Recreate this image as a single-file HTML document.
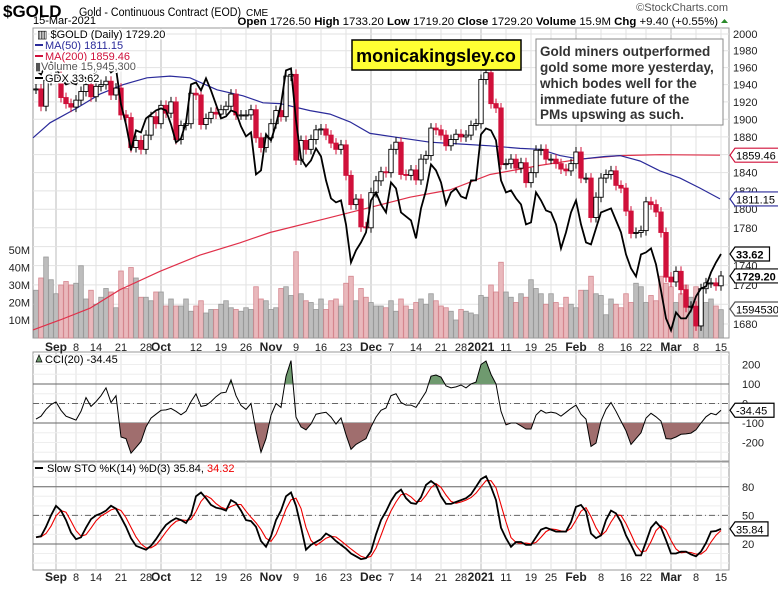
<!DOCTYPE html>
<html><head><meta charset="utf-8"><style>
body{margin:0;background:#fff;}
svg text{font-family:"Liberation Sans",sans-serif;}
</style></head><body>
<svg id="chart" width="778" height="585" viewBox="0 0 778 585" xmlns="http://www.w3.org/2000/svg">
<rect width="778" height="585" fill="#fff"/>
<g id="grid"></g>
<g id="marks"></g>
<g id="labels"></g>
</svg>
<script>
const closes=[1935,1915,1945,1948,1950,1925,1918,1914,1922,1932,1940,1926,1938,1940,1944,1928,1936,1905,1902,1868,1876,1866,1882,1903,1895,1916,1907,1920,1877,1893,1895,1930,1928,1894,1901,1908,1906,1911,1915,1929,1905,1905,1905,1911,1879,1868,1879,1895,1910,1903,1950,1952,1854,1876,1866,1877,1888,1889,1882,1873,1866,1871,1837,1805,1811,1781,1780,1818,1831,1841,1840,1866,1874,1838,1837,1843,1832,1855,1859,1890,1888,1882,1870,1877,1883,1880,1882,1893,1895,1946,1954,1918,1913,1849,1850,1855,1845,1851,1829,1840,1865,1866,1855,1855,1850,1844,1842,1850,1863,1834,1834,1791,1813,1834,1838,1842,1826,1823,1798,1774,1775,1777,1808,1805,1797,1775,1728,1723,1734,1715,1697,1698,1678,1716,1722,1722,1719,1729.2];
const gdx=[42.8,42.6,43.1,43.2,43.0,42.4,42.1,42.2,42.1,42.6,42.4,42.2,42.8,43.0,43.1,42.7,42.9,41.1,40.1,38.8,39.8,39.7,40.4,40.6,40.8,40.9,40.8,40.1,39.2,39.4,40.2,42.1,42.2,41.8,42.4,41.8,41.1,40.4,40.5,40.8,40.7,40.0,39.5,39.7,37.6,37.8,39.6,39.3,40.1,41.1,42.8,42.9,40.3,38.4,38.0,38.3,38.9,38.5,37.3,36.4,36.2,36.3,35.1,33.2,33.8,34.2,34.7,36.3,36.7,36.1,35.7,37.2,36.9,35.7,35.5,35.3,34.4,35.9,36.8,38.1,37.8,37.2,36.1,36.7,36.9,36.5,36.4,37.3,37.3,39.6,39.9,39.8,39.3,37.3,36.7,36.8,36.4,36.1,35.1,35.2,36.7,36.3,35.8,35.7,35.1,33.9,34.7,35.7,36.3,35.1,34.2,34.1,34.9,35.7,35.8,35.9,35.3,34.7,33.6,32.9,32.5,33.6,33.7,33.9,33.1,31.8,30.4,29.8,30.7,30.4,30.4,30.8,31.5,31.9,32.0,32.7,33.2,33.62];
const volume=[27,34,46,33,25,30,32,30,31,41,22,27,19,23,28,26,17,38,28,40,34,23,23,21,26,26,18,22,18,18,22,15,18,21,14,16,16,19,21,17,16,15,17,16,29,22,21,16,17,28,29,24,49,25,21,20,16,22,16,21,22,18,31,35,21,28,23,20,18,18,17,21,15,22,18,16,20,22,19,25,21,18,17,15,10,16,15,14,13,24,23,30,26,43,26,23,20,25,23,33,28,25,19,25,20,17,23,19,17,27,27,35,25,24,13,22,19,17,25,20,31,29,20,24,21,35,31,29,20,25,30,23,29,24,20,22,18,15.9];
const ma50Idx=[-0.6,2.8,8.2,12.8,17.4,22.2,26.8,30.8,36.2,41.4,45.4,48.8,54.8,58.8,62.8,66.8,72.8,78.8,84.8,90.8,96.8,100.8,104.8,108.8,113.8,116.8,120.8,124.8,128.8,132.8,136.8];
const ma50Val=[1879,1896,1913,1929,1940,1948,1950,1948,1934,1927,1919,1918,1910,1906,1897,1884,1879,1874,1872,1870,1867,1866,1859,1855,1858,1859,1853,1842,1834,1823,1811.15];
const ma200Idx=[-0.6,4.8,10.8,16.8,24.8,32.8,40.8,46.8,58.8,66.8,74.8,82.8,90.8,96.8,100.8,108.8,116.8,124.8,136.8];
const ma200Val=[1674,1684,1696,1715,1734,1751,1764,1775,1791,1802,1813,1821,1838,1844,1848,1855,1859,1860,1859.46];
const cci=[-80,-65,-30,-5,8,-35,-65,-75,-85,-40,30,-15,10,40,80,5,40,-172,-180,-255,-225,-195,-120,-75,-55,-35,-33,-25,-40,-58,-40,10,50,-15,-10,10,35,54,58,121,40,-10,-30,0,-140,-250,-180,-60,0,-20,140,220,-70,-120,-135,-105,-55,-49,-45,-70,-105,-74,-160,-235,-210,-195,-180,-120,-70,-35,-23,40,50,5,-8,-8,-20,20,60,140,146,135,90,80,85,95,80,100,110,200,218,150,100,-40,-110,-100,-100,-115,-131,-131,-60,-35,-49,-44,-49,-65,-45,-25,-8,-55,-80,-220,-203,-90,-30,5,-40,-90,-140,-210,-180,-150,-75,-50,-68,-90,-180,-182,-172,-158,-156,-152,-135,-100,-68,-50,-58,-34.45];
const stoK=[27,28,38,50,60,55,45,32,25,27,37,46,50,52,55,60,57,48,38,26,18,16,14,18,25,33,40,44,47,45,42,50,70,74,68,61,58,57,55,66,63,55,45,44,38,23,17,28,45,55,70,74,60,38,14,19,22,25,31,28,23,19,15,10,7,4,5,12,30,45,54,65,73,77,68,63,62,69,82,86,82,70,62,62,64,66,68,72,80,88,91,80,66,37,26,17,22,22,19,19,27,35,37,35,33,33,33,43,59,61,54,31,26,29,45,55,52,43,29,19,8,8,22,37,43,37,24,10,10,12,12,9,7,12,21,33,33.6,35.84];
const dateLabels=["Sep","8","14","21","28","Oct","12","19","26","Nov","9","16","23","Dec","7","14","21","28","2021","11","19","25","Feb","8","16","22","Mar","8","15"];
const dateIdx=[4,8,12,17,22,25,32,37,42,47,52,57,62,67,71,76,81,85,89,94,99,103,108,113,118,122,127,132,137];
const majorLabels=["Sep","Oct","Nov","Dec","2021","Feb","Mar"];
const priceTicks=[1680,1700,1720,1740,1760,1780,1800,1820,1840,1860,1880,1900,1920,1940,1960,1980,2000];
const volTicks=[10,20,30,40,50];
const cciTicks=[200,100,0,-100,-200];
const stoTicks=[80,50,20];

const NS="http://www.w3.org/2000/svg";
const L=33,R=729,MT=28,MB=338,CT=352,CB=461,ST=462,SB=570;
const xOf=i=>36+i*5.0;
const yP=v=>34+1663*Math.log(2000/v);
const yG=v=>254-(v-33.62)*20;
const yV=m=>337.5-m*1.75;
const yC=v=>403.5-v*0.195;
const yS=v=>563-v*0.953;
const G=document.getElementById('grid'),M=document.getElementById('marks'),T=document.getElementById('labels');
function mk(tag,attrs,parent){const e=document.createElementNS(NS,tag);for(const k in attrs)e.setAttribute(k,attrs[k]);parent.appendChild(e);return e;}
function txt(s,x,y,attrs,parent){const e=mk('text',Object.assign({x:x,y:y,'font-size':11,fill:'#000'},attrs),parent);e.textContent=s;return e;}

[[MT,MB,'main-panel'],[CT,CB,'cci-panel'],[ST,SB,'sto-panel']].forEach(p=>{
  const r=mk('rect',{x:L,y:p[0],width:R-L,height:p[1]-p[0],fill:'#fff',stroke:'#999','stroke-width':1},G);
  
});
dateIdx.forEach((di,k)=>{
  const x=xOf(di);const maj=majorLabels.includes(dateLabels[k]);
  [[MT,MB],[CT,CB],[ST,SB]].forEach(p=>{
    const l=mk('line',{x1:x,x2:x,y1:p[0],y2:p[1],stroke:maj?'#bbb':'#e2e2e2','stroke-width':1},G);
    
  });
  [351,581].forEach(yy=>{
    const t=txt(dateLabels[k],x,yy,{'text-anchor':'middle','font-size':maj?12:11,'font-weight':maj?'bold':'normal',fill:'#222'},T);
    
  });
});
priceTicks.forEach(v=>{
  const y=yP(v);
  const l=mk('line',{x1:L,x2:R,y1:y,y2:y,stroke:'#e2e2e2'},G);
  
  if(v!==1760&&v!==1700){const t=txt(String(v),733,y+4,{fill:'#222'},T);
  }
});
volTicks.forEach(m=>{
  const t=txt(m+'M',30,yV(m)+4,{'text-anchor':'end',fill:'#222'},T);
  
});
for(let v=-250;v<=250;v+=50){const y=yC(v);if(y>CT&&y<CB){const l=mk('line',{x1:L,x2:R,y1:y,y2:y,stroke:'#eee'},G);}}
for(let v=0;v<=100;v+=10){const y=yS(v);if(y>ST&&y<SB){const l=mk('line',{x1:L,x2:R,y1:y,y2:y,stroke:'#eee'},G);}}
cciTicks.forEach(v=>{
  const y=yC(v);
  if(v===100||v===-100){const l=mk('line',{x1:L,x2:R,y1:y,y2:y,stroke:'#666','stroke-width':1},G);}
  if(v===0){const l=mk('line',{x1:L,x2:R,y1:y,y2:y,stroke:'#666','stroke-dasharray':'6,3,1,3'},G);}
  const t=txt(String(v),R+13,y+4,{fill:'#222'},T);
});
stoTicks.forEach(v=>{
  const y=yS(v);
  const l=mk('line',{x1:L,x2:R,y1:y,y2:y,stroke:'#666','stroke-dasharray':v===50?'6,3,1,3':'none'},G);
  
  const t=txt(String(v),R+13,y+4,{fill:'#222'},T);
});

volume.forEach((m,i)=>{
  const down=i>0&&closes[i]<closes[i-1];
  const y=yV(m);
  const r=mk('rect',{x:xOf(i)-2.3,y:y,width:4.6,height:MB-y,fill:down?'#e9b8bc':'#bdbdbd',stroke:down?'#d4868e':'#999','stroke-width':0.8},M);
  
});
function pts(idx,vals,yf){return idx.map((d,k)=>xOf(d).toFixed(1)+','+yf(vals[k]).toFixed(1)).join(' ');}
const m200=mk('polyline',{points:pts(ma200Idx,ma200Val,yP),fill:'none',stroke:'#e0304a','stroke-width':1.2},M);

const m50=mk('polyline',{points:pts(ma50Idx,ma50Val,yP),fill:'none',stroke:'#2a2a9a','stroke-width':1.2},M);

closes.forEach((c,i)=>{
  const o=i>0?closes[i-1]:c;const x=xOf(i);
  const up=c>=o;const hi=Math.max(o,c)*1.003,lo=Math.min(o,c)*0.997;
  const w=mk('line',{x1:x,x2:x,y1:yP(hi),y2:yP(lo),stroke:up?'#000':'#d0103a','stroke-width':1},M);
  
  const yt=yP(Math.max(o,c)),yb=yP(Math.min(o,c));
  const b=mk('rect',{x:x-2.2,y:yt,width:4.4,height:Math.max(1,yb-yt),fill:up?'#fff':'#d0103a',stroke:up?'#000':'#d0103a','stroke-width':0.9},M);
  
});
const gl=mk('polyline',{points:gdx.map((v,i)=>xOf(i).toFixed(1)+','+yG(v).toFixed(1)).join(' '),fill:'none',stroke:'#000','stroke-width':1.8},M);


const defs=mk('defs',{},M);
const c1=mk('clipPath',{id:'cciUp'},defs);mk('rect',{x:L,y:CT,width:R-L,height:yC(100)-CT},c1);
const c2=mk('clipPath',{id:'cciDn'},defs);mk('rect',{x:L,y:yC(-100),width:R-L,height:CB-yC(-100)},c2);
const cpts=cci.map((v,i)=>xOf(i).toFixed(1)+','+yC(v).toFixed(1)).join(' ');
const xs=xOf(0),xe=xOf(cci.length-1);
const fu=mk('polygon',{points:xs+','+yC(100)+' '+cpts+' '+xe+','+yC(100),fill:'#6f9a6f',stroke:'none','clip-path':'url(#cciUp)'},M);

const fd=mk('polygon',{points:xs+','+yC(-100)+' '+cpts+' '+xe+','+yC(-100),fill:'#a06e6e',stroke:'none','clip-path':'url(#cciDn)'},M);

const cl=mk('polyline',{points:cpts,fill:'none',stroke:'#000','stroke-width':1},M);

const stoD=stoK.map((v,i)=>{const a=stoK.slice(Math.max(0,i-2),i+1);return a.reduce((s,x)=>s+x,0)/a.length;});
const dl=mk('polyline',{points:stoD.map((v,i)=>xOf(i).toFixed(1)+','+yS(v).toFixed(1)).join(' '),fill:'none',stroke:'#e00','stroke-width':1.1},M);

const kl=mk('polyline',{points:stoK.map((v,i)=>xOf(i).toFixed(1)+','+yS(v).toFixed(1)).join(' '),fill:'none',stroke:'#000','stroke-width':1.8},M);


function tag(s,y,color,bold,name){
  const g=mk('g',{},T);
  const w=s.length*(bold?6.3:6)+3;
  mk('path',{d:`M${R+1},${y} L${R+6},${y-7} L${R+6+w},${y-7} L${R+6+w},${y+7} L${R+6},${y+7} Z`,fill:'#fff',stroke:color,'stroke-width':1.2},g);
  txt(s,R+7,y+4.5,{fill:'#000','font-size':11,'font-weight':bold?'bold':'normal'},g);
}
tag('1859.46',yP(ma200Val[ma200Val.length-1]),'#d0103a',false,'ma200-value-tag');
tag('1811.15',yP(ma50Val[ma50Val.length-1]),'#2a2a9a',false,'ma50-value-tag');
tag('33.62',yG(gdx[gdx.length-1]),'#000',true,'gdx-value-tag');
tag('1729.20',yP(closes[closes.length-1]),'#000',true,'price-value-tag');
tag('1594530',309,'#555',false,'volume-value-tag');
tag('-34.45',yC(cci[cci.length-1]),'#000',false,'cci-value-tag');
tag('35.84',yS(stoK[stoK.length-1]),'#000',false,'sto-value-tag');
</script>
<svg style="position:absolute;left:0;top:0" width="778" height="585">
<text x="3" y="17" font-family="Liberation Sans" font-size="17" font-weight="bold">$GOLD</text>
<text x="79" y="16" font-family="Liberation Sans" font-size="11.5" textLength="162" lengthAdjust="spacingAndGlyphs">Gold - Continuous Contract (EOD)</text>
<text x="246" y="16" font-family="Liberation Sans" font-size="10">CME</text>
<text x="33" y="24" font-family="Liberation Sans" font-size="11">15-Mar-2021</text>
<text x="728" y="11" text-anchor="end" font-family="Liberation Sans" font-size="11" fill="#555">©StockCharts.com</text>
<text x="718" y="25" text-anchor="end" font-family="Liberation Sans" font-size="11.4"><tspan font-weight="bold">Open</tspan> 1726.50  <tspan font-weight="bold">High</tspan> 1733.20  <tspan font-weight="bold">Low</tspan> 1719.20  <tspan font-weight="bold">Close</tspan> 1729.20  <tspan font-weight="bold">Volume</tspan> 15.9M  <tspan font-weight="bold">Chg</tspan> +9.40 (+0.55%)</text>
<polygon points="721,23 728,23 724.5,19" fill="#2a8a2a"/>
<g font-family="Liberation Sans" font-size="11" stroke="#fff" stroke-width="3" paint-order="stroke">
<text x="37" y="38">▥ $GOLD (Daily) 1729.20</text>
<line x1="35" y1="45" x2="43" y2="45" stroke="#2a2a9a" stroke-width="2"/><text x="45" y="49" fill="#2a2a9a">MA(50) 1811.15</text>
<line x1="35" y1="56" x2="43" y2="56" stroke="#d0103a" stroke-width="2"/><text x="45" y="60" fill="#d0103a">MA(200) 1859.46</text>
<text x="35" y="70" fill="#555">▮Volume 15,945,300</text>
<line x1="35" y1="78" x2="43" y2="78" stroke="#000" stroke-width="2"/><text x="45" y="82">GDX 33.62</text>
</g>
<g>
<rect x="352" y="40" width="169" height="30" fill="#ffff33" stroke="#000" stroke-width="1.5"/>
<text x="436" y="62" text-anchor="middle" font-family="Liberation Sans" font-size="18" font-weight="bold">monicakingsley.co</text>
</g>
<g>
<rect x="536" y="39" width="187" height="86" fill="#fff" stroke="#888" stroke-width="1"/>
<text font-family="Liberation Sans" font-size="13.5" font-weight="bold" fill="#333"><tspan x="540" y="56">Gold miners outperformed</tspan><tspan x="540" y="72">gold some more yesterday,</tspan><tspan x="540" y="88">which bodes well for the</tspan><tspan x="540" y="104">immediate future of the</tspan><tspan x="540" y="119">PMs upswing as such.</tspan></text>
</g>
<g font-family="Liberation Sans" font-size="11"><polygon points="36,362 39,355 42,362" fill="#6f9a6f" stroke="#000" stroke-width="0.7"/><text x="45" y="363">CCI(20) -34.45</text></g>
<g font-family="Liberation Sans" font-size="11"><line x1="35" y1="468" x2="43" y2="468" stroke="#000" stroke-width="2"/><text x="47" y="472">Slow STO %K(14) %D(3) 35.84, <tspan fill="#e00">34.32</tspan></text></g>
</svg>
</body></html>
